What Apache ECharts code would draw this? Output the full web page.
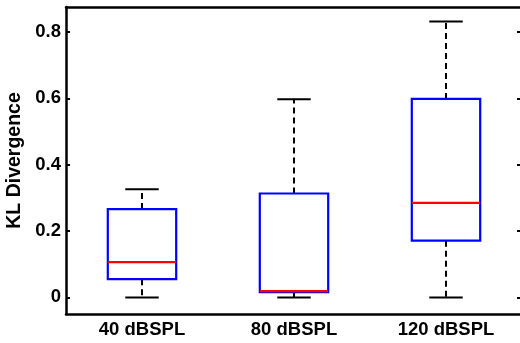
<!DOCTYPE html>
<html>
<head>
<meta charset="utf-8">
<script src="https://cdn.jsdelivr.net/npm/echarts@6/dist/echarts.min.js"></script>
<style>
  html, body { margin: 0; padding: 0; background: #fff; }
  #chart { width: 520px; height: 343px; }
</style>
</head>
<body>
<div id="chart"></div>
<script>
// Box statistics per level
const categories = ['40 dBSPL', '80 dBSPL', '120 dBSPL']
const whiskerLow = [0, 0, 0]
const q1 = [0.055, 0.016, 0.171]
const median = [0.106, 0.019, 0.285]
const q3 = [0.266, 0.313, 0.598]
const whiskerHigh = [0.326, 0.597, 0.831]
const yTicks = [0, 0.2, 0.4, 0.6, 0.8]

const FONT = 'Liberation Sans'

const boxData = categories.map((c, i) => [i, whiskerLow[i], q1[i], median[i], q3[i], whiskerHigh[i]])

const chart = echarts.init(document.getElementById('chart'))

function renderBox(params, api) {
  const x = api.value(0)
  const pLow = api.coord([x, api.value(1)])
  const pQ1 = api.coord([x, api.value(2)])
  const pMed = api.coord([x, api.value(3)])
  const pQ3 = api.coord([x, api.value(4)])
  const pHigh = api.coord([x, api.value(5)])
  const band = api.size([1, 0])[0]
  const half = band * 0.225
  const cap = band * 0.11
  const cx = pMed[0]

  const dashed = { stroke: '#000', lineWidth: 2, lineDash: [6, 4] }
  const solid = { stroke: '#000', lineWidth: 2 }

  return {
    type: 'group',
    children: [
      { type: 'line', shape: { x1: cx, y1: pQ3[1], x2: cx, y2: pHigh[1] }, style: dashed },
      { type: 'line', shape: { x1: cx, y1: pQ1[1], x2: cx, y2: pLow[1] }, style: dashed },
      { type: 'line', shape: { x1: cx - cap, y1: pHigh[1], x2: cx + cap, y2: pHigh[1] }, style: solid },
      { type: 'line', shape: { x1: cx - cap, y1: pLow[1], x2: cx + cap, y2: pLow[1] }, style: solid },
      {
        type: 'rect',
        shape: { x: cx - half, y: pQ3[1], width: half * 2, height: pQ1[1] - pQ3[1] },
        style: { fill: 'none', stroke: '#0000ff', lineWidth: 2.2 }
      },
      {
        type: 'line',
        shape: { x1: cx - half, y1: pMed[1], x2: cx + half, y2: pMed[1] },
        style: { stroke: '#ff0000', lineWidth: 2.2 }
      }
    ]
  }
}

const option = {
  animation: false,
  grid: { left: 66, right: -2, top: 7, bottom: 29, containLabel: false, outerBoundsMode: 'none' },
  xAxis: [
    {
      type: 'category',
      data: categories,
      position: 'bottom',
      axisLine: { onZero: false, lineStyle: { color: '#000', width: 2.5 } },
      axisTick: { inside: true, alignWithLabel: true, length: 4, lineStyle: { color: '#000', width: 2 } },
      axisLabel: { color: '#000', fontFamily: FONT, fontWeight: 'bold', fontSize: 18.5, margin: 6 },
      splitLine: { show: false }
    },
    {
      type: 'category',
      data: categories,
      position: 'top',
      axisLine: { onZero: false, lineStyle: { color: '#000', width: 2.5 } },
      axisTick: { inside: true, alignWithLabel: true, length: 4, lineStyle: { color: '#000', width: 2 } },
      axisLabel: { show: false },
      splitLine: { show: false }
    }
  ],
  yAxis: [
    {
      type: 'value',
      min: -0.05,
      max: 0.875,
      position: 'left',
      name: 'KL Divergence',
      nameLocation: 'middle',
      nameGap: 35,
      nameTextStyle: { color: '#000', fontFamily: FONT, fontWeight: 'bold', fontSize: 19.5 },
      axisLine: { show: true, onZero: false, lineStyle: { color: '#000', width: 2.5 } },
      axisTick: { show: true, inside: true, length: 4, customValues: yTicks, lineStyle: { color: '#000', width: 2 } },
      axisLabel: {
        customValues: yTicks,
        color: '#000',
        fontFamily: FONT,
        fontWeight: 'bold',
        fontSize: 18.5,
        margin: 5,
        formatter: (v) => (v === 0 ? '0' : v.toFixed(1))
      },
      splitLine: { show: false }
    },
    {
      type: 'value',
      min: -0.05,
      max: 0.875,
      position: 'right',
      axisLine: { show: false, onZero: false },
      axisTick: { show: true, inside: true, length: 5, customValues: yTicks, lineStyle: { color: '#000', width: 2 } },
      axisLabel: { show: false },
      splitLine: { show: false }
    }
  ],
  series: [
    {
      type: 'custom',
      renderItem: renderBox,
      xAxisIndex: 0,
      yAxisIndex: 0,
      encode: { x: 0, y: [1, 2, 3, 4, 5] },
      data: boxData
    }
  ]
}

chart.setOption(option)
</script>
</body>
</html>
